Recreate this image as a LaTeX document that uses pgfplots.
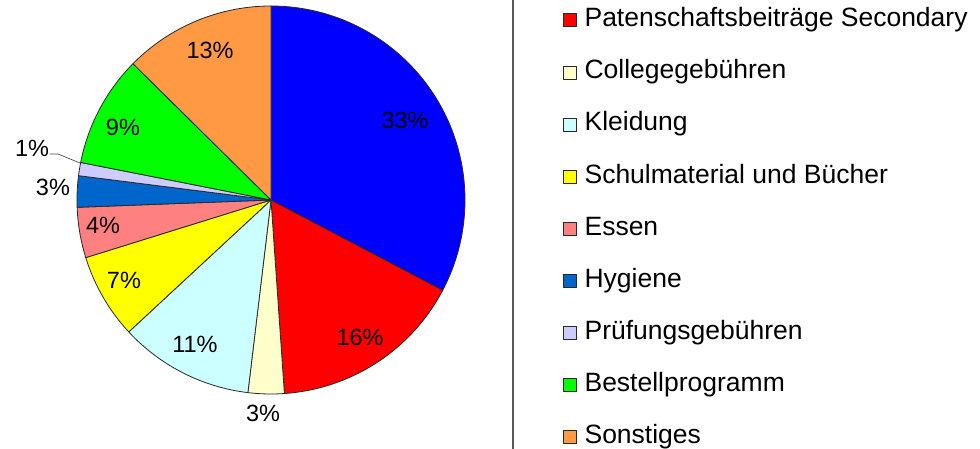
\documentclass[border=0pt]{standalone}
\usepackage{pgfplots}
\pgfplotsset{compat=1.18}
\usepackage{fontspec}
\setmainfont{Liberation Sans}

\definecolor{cBlue}{RGB}{0,0,255}
\definecolor{cRed}{RGB}{255,0,0}
\definecolor{cCream}{RGB}{255,255,204}
\definecolor{cCyan}{RGB}{204,255,255}
\definecolor{cYellow}{RGB}{255,255,0}
\definecolor{cSalmon}{RGB}{255,128,128}
\definecolor{cDBlue}{RGB}{0,102,204}
\definecolor{cLav}{RGB}{204,204,255}
\definecolor{cGreen}{RGB}{0,255,0}
\definecolor{cOrange}{RGB}{255,153,68}
\definecolor{edge}{RGB}{40,40,40}

% cumulative share (percent) of the slices drawn so far
\gdef\cum{0}
\newcommand{\slice}[3][]{%
  \pgfmathsetmacro\angB{90-3.6*\cum}%
  \pgfmathsetmacro\angA{90-3.6*(\cum+#2)}%
  \pgfmathsetmacro\newcum{\cum+#2}%
  \xdef\cum{\newcum}%
  \edef\doslice{\noexpand\addplot[draw=edge, line width=0.8pt, line join=round,
     fill=#3, domain=\angA:\angB, samples=90, #1]
     ({cos(x)},{sin(x)}) -- (axis cs:0,0) -- cycle;}%
  \doslice
}

\begin{document}
\begin{tikzpicture}
\useasboundingbox (0,0) rectangle (980pt,449pt);
\draw[gray!70!black, line width=1.1pt] (513pt,0pt) -- (513pt,449pt);
\begin{axis}[
  at={(271pt,249pt)}, anchor=origin,
  x=194pt, y=194pt,
  xmin=-1, xmax=1, ymin=-1, ymax=1,
  hide axis, clip=false,
  legend image code/.code={\draw[#1, line width=0.6pt] (0pt,-6.5pt) rectangle (13pt,6.5pt);},
  legend cell align=left,
  legend style={at={(1.2525,0.9956)}, anchor=north west, draw=none, fill=none,
    inner sep=0pt, outer sep=0pt, row sep=27.1pt, column sep=8pt,
    font=\fontsize{26.5}{30}\selectfont,
    nodes={inner sep=0pt, text height=19pt, text depth=6pt}},
]
\slice[forget plot]{32.7}{cBlue}
\slice{16.2}{cRed}      \addlegendentry{Patenschaftsbeiträge Secondary}
\slice{3.0}{cCream}     \addlegendentry{Collegegebühren}
\slice{11.2}{cCyan}     \addlegendentry{Kleidung}
\slice{7.1}{cYellow}    \addlegendentry{Schulmaterial und Bücher}
\slice{4.2}{cSalmon}    \addlegendentry{Essen}
\slice{2.6}{cDBlue}     \addlegendentry{Hygiene}
\slice{1.1}{cLav}       \addlegendentry{Prüfungsgebühren}
\slice{9.3}{cGreen}     \addlegendentry{Bestellprogramm}
\slice{12.6}{cOrange}   \addlegendentry{Sonstiges}

\begin{scope}[font=\fontsize{23.5}{27}\selectfont]
\node at (axis cs:0.691,0.412) {33\%};
\node at (axis cs:0.459,-0.706) {16\%};
\node at (axis cs:-0.041,-1.098) {3\%};
\node at (axis cs:-0.392,-0.747) {11\%};
\node at (axis cs:-0.758,-0.412) {7\%};
\node at (axis cs:-0.866,-0.129) {4\%};
\node at (axis cs:-1.124,0.067) {3\%};
\node at (axis cs:-1.232,0.268) {1\%};
\node at (axis cs:-0.763,0.376) {9\%};
\node at (axis cs:-0.314,0.773) {13\%};
\end{scope}
\draw[gray!60!black, line width=0.7pt] (axis cs:-1.139,0.237) -- (axis cs:-1.098,0.237) -- (axis cs:-0.985,0.191);
\end{axis}
\end{tikzpicture}
\end{document}
